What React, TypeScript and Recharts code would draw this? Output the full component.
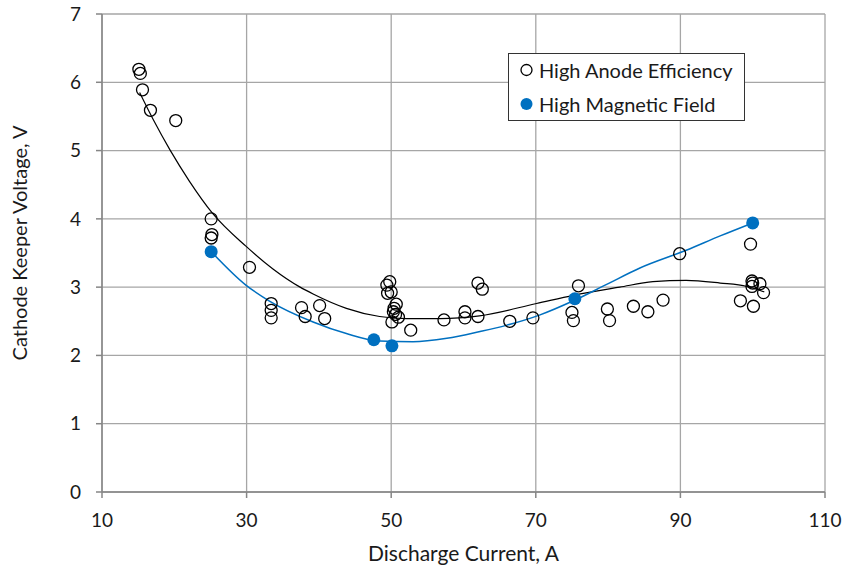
import React from 'react';
import {
  ScatterChart,
  Scatter,
  XAxis,
  YAxis,
  CartesianGrid,
} from 'recharts';

// High Anode Efficiency measurements [current A, keeper voltage V]
const anodeCurrent = [
  15.1, 15.3, 15.6, 16.7, 20.2, 25.1, 25.2, 25.1, 30.4, 33.4, 33.4, 33.4, 37.6, 38.1, 40.1, 40.8,
  49.8, 49.4, 50.0, 49.5, 50.7, 50.4, 50.3, 51.0, 50.1, 50.6, 52.7, 57.3, 60.2, 60.2, 62.0, 62.6,
  62.0, 66.4, 69.6, 75.9, 75.0, 75.2, 79.9, 80.2, 83.5, 85.5, 87.6, 89.9, 99.7, 98.3, 100.1, 99.9,
  100.0, 101.0, 99.9, 101.5,
];
const anodeVoltage = [
  6.19, 6.13, 5.89, 5.59, 5.44, 4.0, 3.77, 3.72, 3.29, 2.76, 2.66, 2.55, 2.7, 2.57, 2.73, 2.54,
  3.08, 3.03, 2.93, 2.91, 2.75, 2.69, 2.64, 2.56, 2.49, 2.6, 2.37, 2.52, 2.64, 2.55, 3.06, 2.97,
  2.57, 2.5, 2.55, 3.02, 2.63, 2.51, 2.68, 2.51, 2.72, 2.64, 2.81, 3.49, 3.63, 2.8, 2.72, 3.09,
  3.06, 3.05, 3.01, 2.92,
];

// High Magnetic Field measurements
const fieldCurrent = [25.1, 47.6, 50.1, 75.4, 100.0];
const fieldVoltage = [3.52, 2.23, 2.14, 2.83, 3.94];

// Trend curves
const anodeTrendX = [15.2, 17.1, 19.4, 22.1, 25.3, 29.9, 33.6, 37.4, 39.2, 43.8, 48.4, 52.1, 56.8, 62.2, 70.1, 75.2, 81.6, 86.2, 90.8, 95.5, 99.2, 101.6];
const anodeTrendY = [5.85, 5.45, 5.01, 4.55, 4.08, 3.6, 3.27, 3.0, 2.9, 2.69, 2.57, 2.54, 2.54, 2.58, 2.76, 2.88, 3.0, 3.08, 3.1, 3.06, 3.01, 2.93];
const fieldTrendX = [25.1, 29.9, 33.1, 39.2, 43.8, 48.4, 53.0, 57.7, 62.3, 65.9, 70.5, 75.2, 79.8, 84.4, 90.8, 95.5, 100.0];
const fieldTrendY = [3.52, 3.03, 2.8, 2.49, 2.32, 2.21, 2.2, 2.25, 2.35, 2.44, 2.59, 2.8, 3.04, 3.28, 3.54, 3.75, 3.94];

const xTicks = [10, 30, 50, 70, 90, 110];
const yTicks = [0, 1, 2, 3, 4, 5, 6, 7];

const zip = (xs: number[], ys: number[]) => xs.map((x, i) => ({ x, y: ys[i] }));
const anodeData = zip(anodeCurrent, anodeVoltage);
const fieldData = zip(fieldCurrent, fieldVoltage);
const anodeTrend = zip(anodeTrendX, anodeTrendY);
const fieldTrend = zip(fieldTrendX, fieldTrendY);

const BLUE = '#0070c0';
const GRID = '#a6a6a6';
const AXIS = '#868686';
const TEXT = '#1a1a1a';
const FONT = 'Lato, "Open Sans", sans-serif';

const OpenCircle = (p: any) => (
  <circle cx={p.cx} cy={p.cy} r={6} fill="none" stroke="#000" strokeWidth={1.3} />
);
const BlueDot = (p: any) => <circle cx={p.cx} cy={p.cy} r={6.5} fill={BLUE} />;
const NoDot = () => <g />;

const LegendBox = () => (
  <div
    style={{
      position: 'absolute',
      left: 508,
      top: 53,
      width: 237,
      height: 68,
      boxSizing: 'border-box',
      border: '1px solid #333',
      background: '#fff',
      fontFamily: FONT,
      fontSize: 20,
      color: TEXT,
    }}
  >
    <svg width={20} height={68} style={{ position: 'absolute', left: 7, top: -1 }}>
      <circle cx={10.5} cy={17} r={5.5} fill="none" stroke="#000" strokeWidth={1.3} />
      <circle cx={10.5} cy={51} r={6} fill={BLUE} />
    </svg>
    <div style={{ position: 'absolute', left: 30, top: 16, transform: 'translateY(-50%)', whiteSpace: 'nowrap' }}>
      High Anode Efficiency
    </div>
    <div style={{ position: 'absolute', left: 30, top: 50, transform: 'translateY(-50%)', whiteSpace: 'nowrap' }}>
      High Magnetic Field
    </div>
  </div>
);

export default function App() {
  return (
    <div style={{ position: 'absolute', left: 0, top: 0, width: 847, height: 569, background: '#fff' }}>
      <ScatterChart
        width={847}
        height={569}
        margin={{ top: 14, right: 22, bottom: 5, left: 0 }}
        style={{ fontFamily: FONT }}
      >
        <CartesianGrid stroke={GRID} strokeWidth={1.3} />
        <XAxis
          type="number"
          dataKey="x"
          domain={[10, 110]}
          ticks={xTicks}
          interval={0}
          height={72}
          tickSize={6}
          tickMargin={16}
          stroke={AXIS}
          strokeWidth={1.5}
          tick={{ fill: TEXT, fontSize: 19 }}
          label={{ value: 'Discharge Current, A', position: 'insideBottom', offset: 3, fill: TEXT, fontSize: 21 }}
        />
        <YAxis
          type="number"
          dataKey="y"
          domain={[0, 7]}
          ticks={yTicks}
          interval={0}
          width={102}
          tickSize={6}
          tickMargin={15}
          stroke={AXIS}
          strokeWidth={1.5}
          tick={{ fill: TEXT, fontSize: 19 }}
          label={{
            value: 'Cathode Keeper Voltage, V',
            angle: -90,
            position: 'insideLeft',
            offset: 20,
            dy: -10,
            fill: TEXT,
            fontSize: 20,
            style: { textAnchor: 'middle' },
          }}
        />
        <Scatter
          data={anodeTrend}
          line={{ stroke: '#000', strokeWidth: 1.2 }}
          lineJointType="monotoneX"
          shape={NoDot}
          legendType="none"
          isAnimationActive={false}
        />
        <Scatter
          data={fieldTrend}
          line={{ stroke: BLUE, strokeWidth: 1.5 }}
          lineJointType="monotoneX"
          shape={NoDot}
          legendType="none"
          isAnimationActive={false}
        />
        <Scatter name="High Anode Efficiency" data={anodeData} shape={OpenCircle} isAnimationActive={false} />
        <Scatter name="High Magnetic Field" data={fieldData} shape={BlueDot} isAnimationActive={false} />
      </ScatterChart>
      <LegendBox />
    </div>
  );
}
